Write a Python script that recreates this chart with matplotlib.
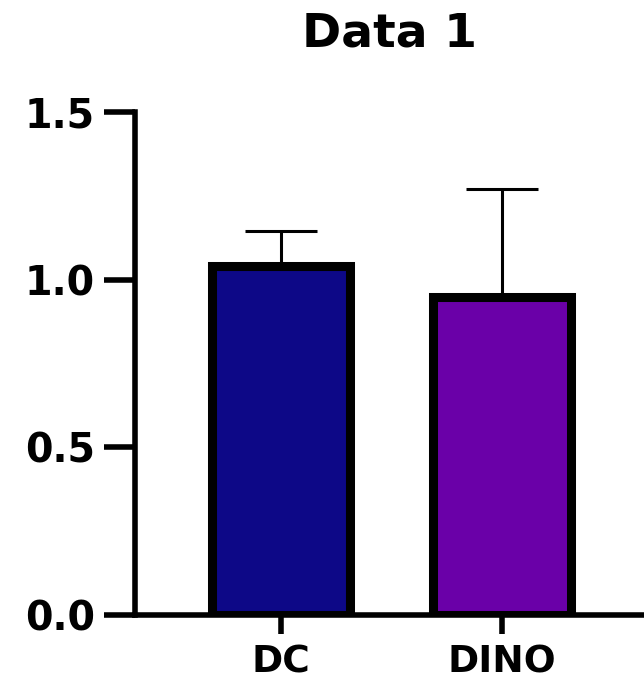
import matplotlib
matplotlib.use("Agg")
import matplotlib.pyplot as plt

categories = ["DC", "DINO"]
means = [1.04, 0.947]
errors = [0.104, 0.323]
colors = ["#0d0887", "#6a00a8"]
yticks = [0.0, 0.5, 1.0, 1.5]
ytick_labels = ["0.0", "0.5", "1.0", "1.5"]
title = "Data 1"

plt.rcParams['font.family'] = ['DejaVu Sans']
plt.rcParams['font.weight'] = 'bold'

fig = plt.figure(figsize=(6.44, 6.83), dpi=100)
ax = fig.add_axes([135/644, 68/683, 509/644, 503/683])

x = list(range(len(categories)))
ax.bar(x, means, width=0.624, color=colors, edgecolor="black", linewidth=6.5, zorder=3)
for xi, m, e in zip(x, means, errors):
    ax.errorbar([xi], [m], yerr=[[0], [e]], fmt="none", ecolor="black",
                elinewidth=2.2, capsize=26, capthick=2.2, zorder=2)

ax.set_xlim(-0.661, 1.643)
ax.set_ylim(0, 1.5)
ax.set_yticks(yticks)
ax.set_yticklabels(ytick_labels)
ax.set_xticks(x)
ax.set_xticklabels(categories)

for s in ["top", "right"]:
    ax.spines[s].set_visible(False)
for s in ["left", "bottom"]:
    ax.spines[s].set_linewidth(4)
    ax.spines[s].set_capstyle("projecting")

ax.tick_params(axis="y", length=22, width=4, pad=7, labelsize=28.5)
ax.tick_params(axis="x", length=14, width=4, pad=7, labelsize=27)
for lab in ax.get_xticklabels() + ax.get_yticklabels():
    lab.set_fontweight("bold")

ax.set_title(title, fontsize=34, fontweight="bold", pad=47)

fig.savefig("out.png", dpi=100)
